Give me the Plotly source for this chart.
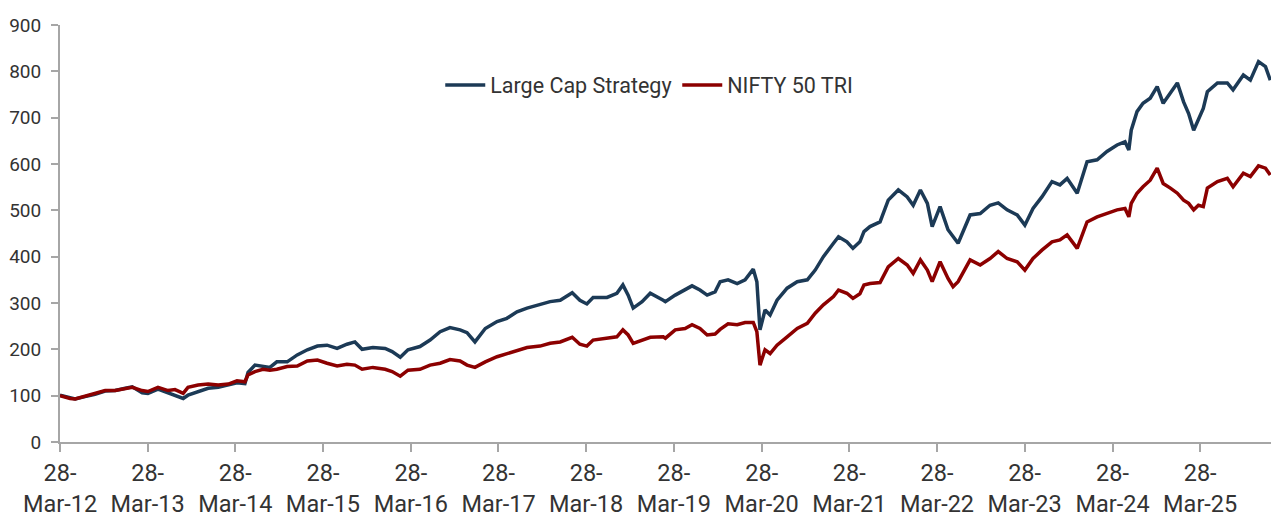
import plotly.graph_objects as go

dates = [
    "2012-03-28", "2012-05-09", "2012-05-30", "2012-07-10", "2012-08-21", "2012-10-02",
    "2012-11-13", "2012-12-25", "2013-01-23", "2013-03-05", "2013-03-29", "2013-05-10",
    "2013-06-21", "2013-07-20", "2013-08-23", "2013-09-12", "2013-10-24", "2013-12-05",
    "2014-01-16", "2014-02-27", "2014-04-04", "2014-05-07", "2014-05-20", "2014-06-18",
    "2014-07-21", "2014-08-19", "2014-09-17", "2014-10-30", "2014-12-11", "2015-01-22",
    "2015-03-05", "2015-04-14", "2015-05-26", "2015-07-06", "2015-08-08", "2015-09-07",
    "2015-10-22", "2015-12-12", "2016-01-10", "2016-02-13", "2016-03-16", "2016-05-05",
    "2016-06-16", "2016-07-28", "2016-09-07", "2016-10-19", "2016-11-17", "2016-12-20",
    "2017-02-01", "2017-03-22", "2017-05-02", "2017-06-13", "2017-07-25", "2017-09-17",
    "2017-10-29", "2017-12-10", "2018-01-29", "2018-03-02", "2018-03-31", "2018-04-26",
    "2018-06-23", "2018-08-03", "2018-08-28", "2018-09-19", "2018-10-10", "2018-11-16",
    "2018-12-20", "2019-02-12", "2019-02-21", "2019-04-03", "2019-05-14", "2019-06-12",
    "2019-07-15", "2019-08-14", "2019-09-16", "2019-10-07", "2019-11-09", "2019-12-17",
    "2020-01-19", "2020-02-22", "2020-03-08", "2020-03-21", "2020-04-11", "2020-05-02",
    "2020-05-31", "2020-07-12", "2020-08-23", "2020-10-04", "2020-11-06", "2020-12-10",
    "2021-01-21", "2021-02-11", "2021-03-18", "2021-04-12", "2021-05-11", "2021-05-28",
    "2021-06-22", "2021-08-03", "2021-09-06", "2021-10-18", "2021-11-24", "2021-12-19",
    "2022-01-18", "2022-02-16", "2022-03-08", "2022-04-10", "2022-05-13", "2022-06-03",
    "2022-06-24", "2022-08-13", "2022-09-24", "2022-11-04", "2022-12-08", "2023-01-14",
    "2023-02-25", "2023-03-29", "2023-05-02", "2023-06-08", "2023-07-20", "2023-08-22",
    "2023-09-21", "2023-11-02", "2023-12-13", "2024-01-24", "2024-03-05", "2024-04-16",
    "2024-05-19", "2024-06-04", "2024-06-14", "2024-07-08", "2024-08-02", "2024-09-01",
    "2024-09-30", "2024-10-25", "2024-11-24", "2024-12-23", "2025-01-18", "2025-02-08",
    "2025-03-01", "2025-03-21", "2025-04-10", "2025-04-27", "2025-06-08", "2025-07-19",
    "2025-08-12", "2025-09-24", "2025-10-23", "2025-11-26", "2025-12-25", "2026-01-14",
]

large_cap = [
    101, 95, 93, 98, 103, 110, 111, 116, 119, 106, 105, 114,
    106, 101, 94, 101, 109, 116, 118, 123, 128, 126, 150, 166,
    164, 161, 173, 173, 188, 199, 207, 209, 202, 211, 216, 200,
    204, 202, 195, 183, 199, 206, 220, 238, 247, 242, 236, 216,
    245, 260, 267, 281, 289, 296, 303, 306, 322, 306, 298, 312,
    312, 321, 339, 317, 289, 303, 321, 306, 303, 317, 328, 337,
    328, 317, 324, 346, 350, 342, 350, 373, 346, 242, 285, 274,
    306, 332, 346, 350, 371, 400, 429, 443, 432, 418, 432, 454,
    465, 475, 522, 544, 529, 511, 544, 515, 465, 508, 458, 443,
    429, 490, 493, 511, 516, 501, 490, 468, 504, 529, 562, 555,
    569, 537, 605, 609, 627, 641, 648, 630, 673, 713, 731, 742,
    767, 731, 753, 775, 734, 709, 673, 699, 720, 756, 775, 775,
    760, 792, 781, 821, 810, 781,
]

nifty50_tri = [
    100, 94, 93, 99, 104, 111, 111, 116, 118, 111, 109, 118,
    111, 113, 105, 118, 123, 125, 123, 125, 132, 130, 145, 152,
    157, 155, 157, 163, 164, 175, 177, 170, 164, 168, 166, 157,
    161, 157, 152, 142, 155, 157, 166, 170, 178, 175, 166, 161,
    173, 184, 191, 197, 204, 207, 213, 216, 226, 211, 207, 220,
    224, 227, 242, 231, 213, 220, 226, 227, 224, 242, 245, 253,
    245, 231, 233, 243, 255, 253, 258, 258, 238, 166, 199, 191,
    209, 227, 245, 256, 278, 296, 314, 328, 321, 310, 320, 339,
    342, 344, 378, 396, 382, 364, 393, 371, 346, 389, 353, 335,
    346, 393, 382, 396, 411, 396, 389, 371, 396, 414, 432, 436,
    447, 418, 475, 486, 493, 501, 504, 486, 515, 537, 551, 565,
    591, 558, 548, 537, 522, 515, 501, 511, 508, 548, 562, 569,
    551, 580, 573, 596, 591, 576,
]

tick_dates = ["2012-03-28", "2013-03-28", "2014-03-28", "2015-03-28", "2016-03-28",
              "2017-03-28", "2018-03-28", "2019-03-28", "2020-03-28", "2021-03-28",
              "2022-03-28", "2023-03-28", "2024-03-28", "2025-03-28"]
tick_labels = ["28-<br>Mar-12", "28-<br>Mar-13", "28-<br>Mar-14", "28-<br>Mar-15",
               "28-<br>Mar-16", "28-<br>Mar-17", "28-<br>Mar-18", "28-<br>Mar-19",
               "28-<br>Mar-20", "28-<br>Mar-21", "28-<br>Mar-22", "28-<br>Mar-23",
               "28-<br>Mar-24", "28-<br>Mar-25"]
y_ticks = [0, 100, 200, 300, 400, 500, 600, 700, 800, 900]

BLUE = "#1C3A56"
RED = "#8C0000"
TEXT = "#333333"
AXIS = "#A6A6A6"

fig = go.Figure()
fig.add_trace(go.Scatter(x=dates, y=large_cap, mode="lines", name="Large Cap Strategy",
                         line=dict(color=BLUE, width=3.5)))
fig.add_trace(go.Scatter(x=dates, y=nifty50_tri, mode="lines", name="NIFTY 50 TRI",
                         line=dict(color=RED, width=3.5)))

fig.update_layout(
    width=1271, height=514,
    margin=dict(l=60, r=0, t=25, b=72, autoexpand=False),
    paper_bgcolor="white", plot_bgcolor="white",
    font=dict(family="Roboto", color=TEXT),
    showlegend=True,
    legend=dict(orientation="h", x=0.314, y=0.856, xanchor="left", yanchor="middle",
                font=dict(family="Roboto", size=21.5, color=TEXT),
                itemwidth=40, entrywidth=182, entrywidthmode="pixels",
                bgcolor="rgba(0,0,0,0)"),
    xaxis=dict(
        type="date", range=["2012-03-28", "2026-01-17"], automargin=False,
        tickmode="array", tickvals=tick_dates, ticktext=tick_labels,
        showgrid=False, zeroline=False,
        showline=True, linecolor=AXIS, linewidth=2,
        ticks="outside", ticklen=8, tickcolor=AXIS, tickwidth=2,
        ticklabelstandoff=1,
        tickfont=dict(family="Roboto", size=23.5, color=TEXT),
    ),
    yaxis=dict(
        range=[0, 900], tickmode="array", tickvals=y_ticks, automargin=False,
        showgrid=False, zeroline=False,
        showline=True, linecolor=AXIS, linewidth=2,
        ticks="outside", ticklen=7, tickcolor=AXIS, tickwidth=2,
        ticklabelstandoff=6,
        tickfont=dict(family="Roboto", size=19, color=TEXT),
    ),
)

fig.write_html(
    "out.html",
    config={"displayModeBar": False},
    post_script="document.body.style.margin='0';document.body.style.padding='0';",
)
